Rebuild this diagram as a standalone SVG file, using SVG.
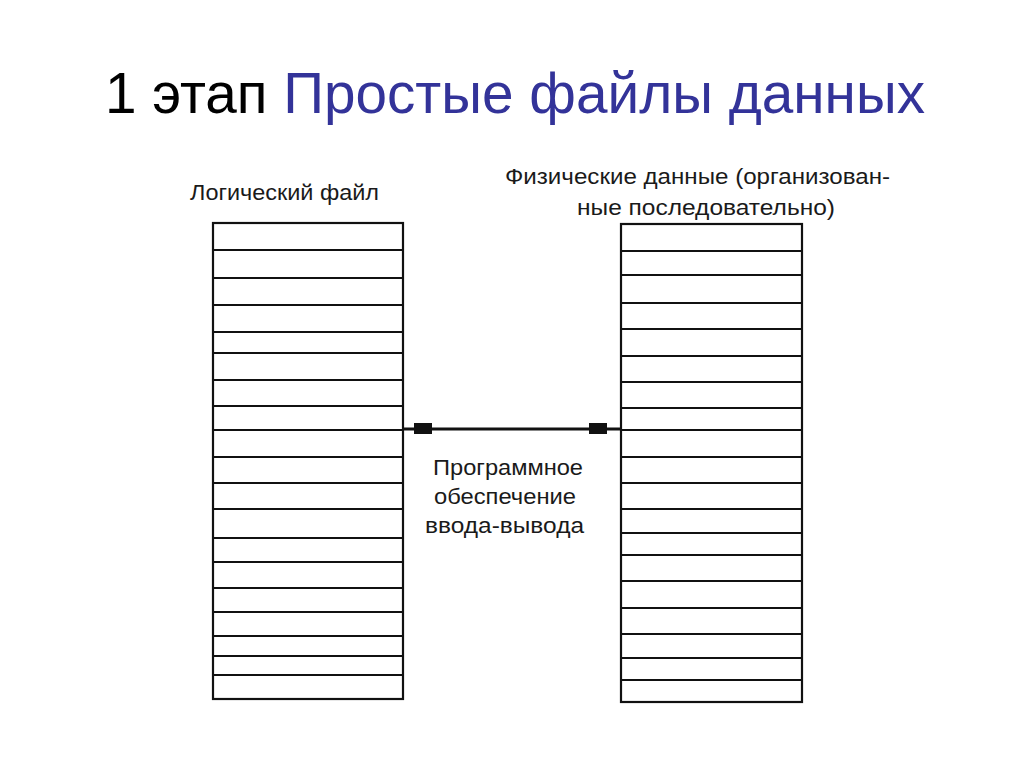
<svg xmlns="http://www.w3.org/2000/svg" width="1024" height="767" viewBox="0 0 1024 767">
<style>
.t{font-family:"Liberation Sans",Arial,sans-serif;font-size:57px;}
.lbl{font-family:"Liberation Sans",Arial,sans-serif;font-size:22px;fill:#1a1a1a;}
.box{fill:#fff;stroke:#111;stroke-width:2.2;}
.row{stroke:#111;stroke-width:2.2;}
.conn{stroke:#111;stroke-width:3;fill:none;}
.mk{fill:#111;}
</style>
<rect width="1024" height="767" fill="#fff"/>
<g id="title">
<text class="t" x="105" y="113" textLength="820" lengthAdjust="spacingAndGlyphs"><tspan fill="#000">1 этап </tspan><tspan fill="#333399">Простые файлы данных</tspan></text>
</g>
<g id="logical-file">
<text class="lbl" x="190" y="200" textLength="189" lengthAdjust="spacingAndGlyphs">Логический файл</text>
<rect class="box" x="213" y="223" width="190" height="476"/>
<g class="row">
<line x1="213" x2="403" y1="250" y2="250"/>
<line x1="213" x2="403" y1="278" y2="278"/>
<line x1="213" x2="403" y1="305" y2="305"/>
<line x1="213" x2="403" y1="332" y2="332"/>
<line x1="213" x2="403" y1="353" y2="353"/>
<line x1="213" x2="403" y1="380" y2="380"/>
<line x1="213" x2="403" y1="406" y2="406"/>
<line x1="213" x2="403" y1="430" y2="430"/>
<line x1="213" x2="403" y1="457" y2="457"/>
<line x1="213" x2="403" y1="483" y2="483"/>
<line x1="213" x2="403" y1="509" y2="509"/>
<line x1="213" x2="403" y1="538" y2="538"/>
<line x1="213" x2="403" y1="562" y2="562"/>
<line x1="213" x2="403" y1="588" y2="588"/>
<line x1="213" x2="403" y1="612" y2="612"/>
<line x1="213" x2="403" y1="636" y2="636"/>
<line x1="213" x2="403" y1="656" y2="656"/>
<line x1="213" x2="403" y1="675" y2="675"/>
</g>
</g>
<g id="physical-data">
<text class="lbl" x="505" y="184" textLength="385" lengthAdjust="spacingAndGlyphs">Физические данные (организован-</text>
<text class="lbl" x="577" y="215" textLength="258" lengthAdjust="spacingAndGlyphs">ные последовательно)</text>
<rect class="box" x="621" y="224" width="181" height="478"/>
<g class="row">
<line x1="621" x2="802" y1="251" y2="251"/>
<line x1="621" x2="802" y1="275" y2="275"/>
<line x1="621" x2="802" y1="303" y2="303"/>
<line x1="621" x2="802" y1="329" y2="329"/>
<line x1="621" x2="802" y1="356" y2="356"/>
<line x1="621" x2="802" y1="382" y2="382"/>
<line x1="621" x2="802" y1="408" y2="408"/>
<line x1="621" x2="802" y1="430" y2="430"/>
<line x1="621" x2="802" y1="457" y2="457"/>
<line x1="621" x2="802" y1="483" y2="483"/>
<line x1="621" x2="802" y1="509" y2="509"/>
<line x1="621" x2="802" y1="533" y2="533"/>
<line x1="621" x2="802" y1="555" y2="555"/>
<line x1="621" x2="802" y1="581" y2="581"/>
<line x1="621" x2="802" y1="608" y2="608"/>
<line x1="621" x2="802" y1="634" y2="634"/>
<line x1="621" x2="802" y1="658" y2="658"/>
<line x1="621" x2="802" y1="680" y2="680"/>
</g>
</g>
<g id="connectors">
<line class="conn" x1="404" y1="429" x2="620" y2="429"/>
<rect class="mk" x="414" y="423" width="18" height="11"/>
<rect class="mk" x="589" y="423" width="18" height="11"/>
</g>
<g id="io-software">
<text class="lbl" x="433" y="475" textLength="150" lengthAdjust="spacingAndGlyphs">Программное</text>
<text class="lbl" x="434" y="504" textLength="142" lengthAdjust="spacingAndGlyphs">обеспечение</text>
<text class="lbl" x="425" y="533" textLength="159" lengthAdjust="spacingAndGlyphs">ввода-вывода</text>
</g>
</svg>
